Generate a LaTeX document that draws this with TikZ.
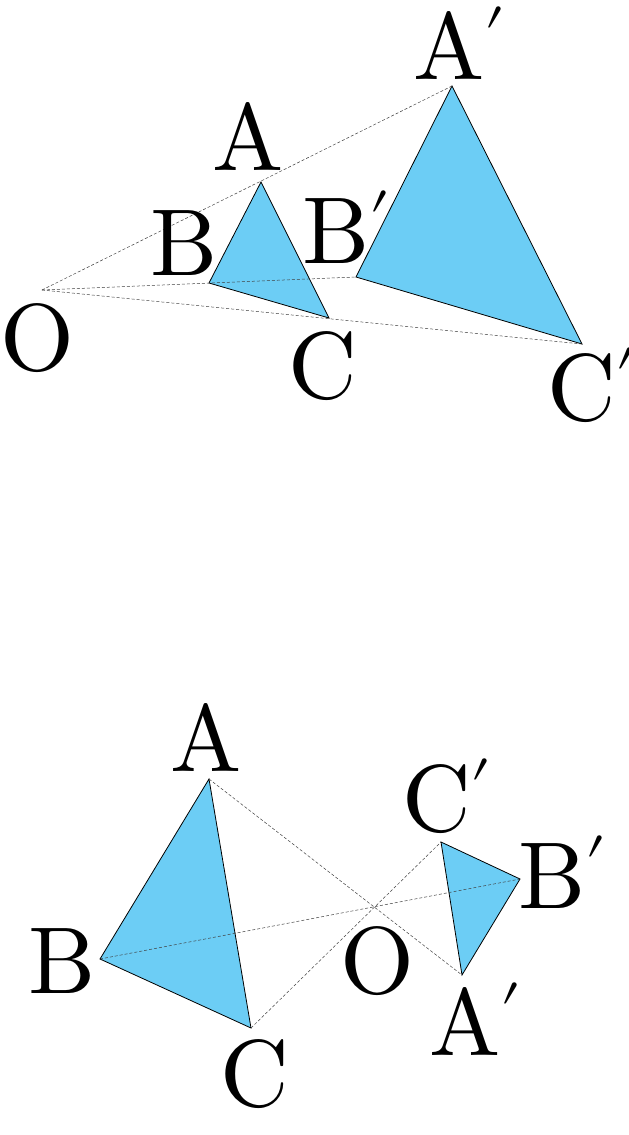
\documentclass[tikz,border=0pt]{standalone}
\usepackage{unicode-math}
\setmathfont{Latin Modern Math}
\usepackage{xcolor}
\usepackage{tikz}
\definecolor{skyfill}{RGB}{108,205,245}
\newcommand{\img}[1]{$\symup{#1}$\raisebox{-12pt}{$^{\prime}$}}
\tikzset{
	tri/.style={draw=black, line width=0.8pt, fill=skyfill},
	ray/.style={dash pattern=on 3pt off 2pt, line width=0.5pt, black!75},
	lbl/.style={anchor=base west, inner sep=0pt, font=\fontsize{95}{100}\selectfont}
}
\begin{document}
\begin{tikzpicture}[x=1pt,y=-1pt]
	\useasboundingbox (0,0) rectangle (629,1135);

	% top: O outside, same orientation
	\coordinate (O) at (42,290);
	\coordinate (A) at (261,182);
	\coordinate (B) at (209,283);
	\coordinate (C) at (329,318);
	\coordinate (Ap) at (452,86);
	\coordinate (Bp) at (356,277);
	\coordinate (Cp) at (582,344);
	\filldraw[tri] (A) -- (B) -- (C) -- cycle;
	\filldraw[tri] (Ap) -- (Bp) -- (Cp) -- cycle;
	\draw[ray] (O) -- (Ap);
	\draw[ray] (O) -- (Bp);
	\draw[ray] (O) -- (Cp);
	\node[lbl] (lO) at (0,370) {$\symup{O}$};
	\node[lbl] (lA) at (212,170) {$\symup{A}$};
	\node[lbl] (lB) at (150,275) {$\symup{B}$};
	\node[lbl] (lC) at (288,398) {$\symup{C}$};
	\node[lbl] (lAp) at (413,79) {\img{A}};
	\node[lbl] (lBp) at (302,263) {\img{B}};
	\node[lbl] (lCp) at (547,420) {\img{C}};

	% bottom: O between, reversed
	\coordinate (O2) at (375,907);
	\coordinate (A2) at (209,779);
	\coordinate (B2) at (100,959);
	\coordinate (C2) at (251,1028);
	\coordinate (Ap2) at (462,975);
	\coordinate (Bp2) at (520,879);
	\coordinate (Cp2) at (441,842);
	\filldraw[tri] (A2) -- (B2) -- (C2) -- cycle;
	\filldraw[tri] (Ap2) -- (Bp2) -- (Cp2) -- cycle;
	\draw[ray] (A2) -- (Ap2);
	\draw[ray] (B2) -- (Bp2);
	\draw[ray] (C2) -- (Cp2);
	\node[lbl] (lO2) at (340,993) {$\symup{O}$};
	\node[lbl] (lA2) at (170,771) {$\symup{A}$};
	\node[lbl] (lB2) at (28,993) {$\symup{B}$};
	\node[lbl] (lC2) at (220,1106) {$\symup{C}$};
	\node[lbl] (lAp2) at (429,1055) {\img{A}};
	\node[lbl] (lBp2) at (518,908) {\img{B}};
	\node[lbl] (lCp2) at (402,831) {\img{C}};
\end{tikzpicture}
\end{document}
